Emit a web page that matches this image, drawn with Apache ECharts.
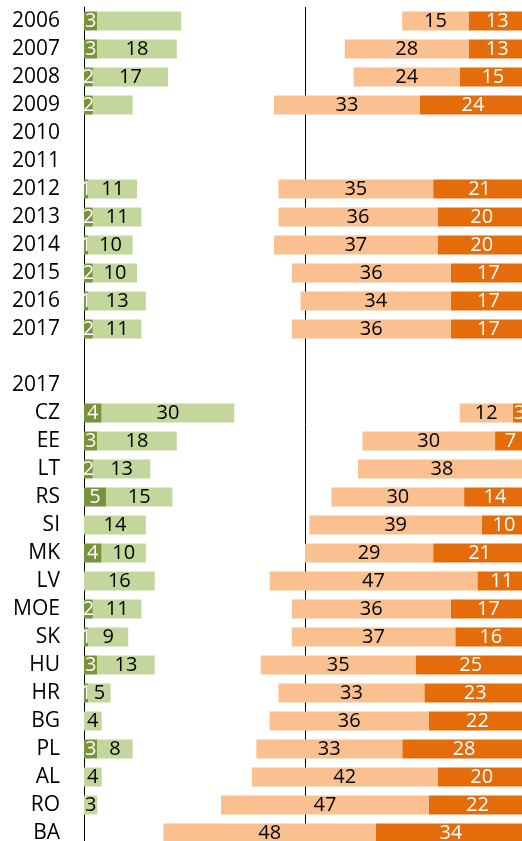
<!DOCTYPE html>
<html>
<head>
<meta charset="utf-8">
<script src="https://cdn.jsdelivr.net/npm/echarts@6/dist/echarts.min.js"></script>
<style>
  html, body { margin: 0; padding: 0; background: #fff; }
  #chart { width: 522px; height: 841px; }
</style>
</head>
<body>
<div id="chart"></div>
<script>
const categories = ['2006', '2007', '2008', '2009', '2010', '2011', '2012', '2013', '2014', '2015', '2016', '2017',
  '', '2017', 'CZ', 'EE', 'LT', 'RS', 'SI', 'MK', 'LV', 'MOE', 'SK', 'HU', 'HR', 'BG', 'PL', 'AL', 'RO', 'BA']

const darkGreen = [3, 3, 2, 2, null, null, 1, 2, 1, 2, 1, 2,
  null, null, 4, 3, 2, 5, 0, 4, 0, 2, 1, 3, 1, 0, 3, 0, 0, 0]
const lightGreen = [19, 18, 17, 9, null, null, 11, 11, 10, 10, 13, 11,
  null, null, 30, 18, 13, 15, 14, 10, 16, 11, 9, 13, 5, 4, 8, 4, 3, 0]
const lightOrange = [15, 28, 24, 33, null, null, 35, 36, 37, 36, 34, 36,
  null, null, 12, 30, 38, 30, 39, 29, 47, 36, 37, 35, 33, 36, 33, 42, 47, 48]
const darkOrange = [13, 13, 15, 24, null, null, 21, 20, 20, 17, 17, 17,
  null, null, 3, 7, 0, 14, 10, 21, 11, 17, 16, 25, 23, 22, 28, 20, 22, 34]

// rows where the light green value has no label in the original
const unlabeledLightGreen = [0, 3]

const chart = echarts.init(document.getElementById('chart'))

function lbl(color) {
  return {
    show: true,
    position: 'inside',
    color: color,
    fontSize: 20,
    formatter: p => (p.value ? p.value : '')
  }
}

const option = {
  animation: false,
  textStyle: { fontFamily: 'Open Sans' },
  // the 100% end sits just past the right edge of the picture
  grid: { left: 84, right: -4, top: 7, height: 840, containLabel: false, outerBoundsMode: 'none' },
  xAxis: [
    {
      type: 'value', min: 0, max: 100, interval: 50,
      axisLine: { show: false }, axisTick: { show: false }, axisLabel: { show: false },
      splitLine: { show: true, showMinLine: false, showMaxLine: false, lineStyle: { color: '#000', width: 1 } }
    },
    {
      type: 'value', min: 0, max: 100, inverse: true, show: false
    }
  ],
  yAxis: {
    type: 'category',
    inverse: true,
    data: categories,
    axisLine: { show: true, lineStyle: { color: '#000', width: 1 } },
    axisTick: { show: false },
    axisLabel: { color: '#000', fontSize: 21, margin: 24, align: 'right' }
  },
  series: [
    {
      name: 'dg', type: 'bar', stack: 'g', xAxisIndex: 0, barWidth: 19, barGap: '-100%',
      itemStyle: { color: '#77933c' },
      label: lbl('#fff'),
      data: darkGreen
    },
    {
      name: 'lg', type: 'bar', stack: 'g', xAxisIndex: 0, barWidth: 19, barGap: '-100%',
      itemStyle: { color: '#c3d69b' },
      label: lbl('#000'),
      data: lightGreen.map((v, i) => unlabeledLightGreen.includes(i) ? { value: v, label: { show: false } } : v)
    },
    {
      name: 'do', type: 'bar', stack: 'o', xAxisIndex: 1, barWidth: 19, barGap: '-100%',
      itemStyle: { color: '#e46c0a' },
      label: lbl('#fff'),
      data: darkOrange
    },
    {
      name: 'lo', type: 'bar', stack: 'o', xAxisIndex: 1, barWidth: 19, barGap: '-100%',
      itemStyle: { color: '#fac090' },
      label: lbl('#000'),
      data: lightOrange
    }
  ]
}

chart.setOption(option)
</script>
</body>
</html>
